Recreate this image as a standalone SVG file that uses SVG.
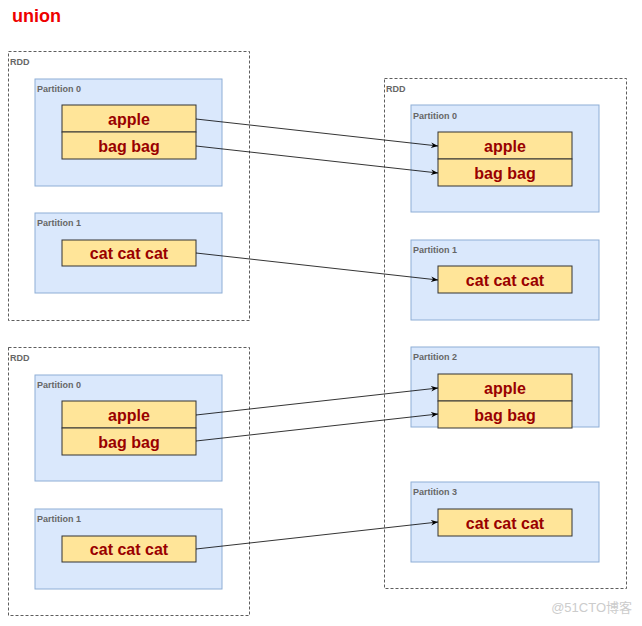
<svg xmlns="http://www.w3.org/2000/svg" width="642" height="626" viewBox="0 0 642 626">
<defs>
<style>
.rdd{fill:none;stroke:#333;stroke-width:0.8;stroke-dasharray:3,2}
.part{fill:#dae8fc;stroke:#8eaed6;stroke-width:1}
.cell{fill:#ffe599;stroke:#333;stroke-width:1}
.lbl{font-family:"Liberation Sans",Arial,sans-serif;font-size:9px;font-weight:bold;fill:#666}
.txt{font-family:"Liberation Sans",Arial,sans-serif;font-size:16px;font-weight:bold;fill:#990000;text-anchor:middle}
.conn{stroke:#000;stroke-width:0.8;fill:none;marker-end:url(#arr)}
</style>
<marker id="arr" viewBox="0 0 10 10" refX="10" refY="5" markerWidth="7" markerHeight="7" markerUnits="userSpaceOnUse" orient="auto">
<path d="M0,1 L10,5 L0,9 L3,5 Z" fill="#000"/>
</marker>
</defs>
<rect width="642" height="626" fill="#fff"/>
<text x="12" y="22" font-family="Liberation Sans,Arial,sans-serif" font-size="18" font-weight="bold" fill="#ee0000">union</text>

<g id="rdd1">
<rect class="rdd" x="8.5" y="51.5" width="241" height="269"/>
<text class="lbl" x="10" y="65">RDD</text>
</g>
<g id="rdd1-p0">
<rect class="part" x="35" y="79" width="187" height="107"/>
<text class="lbl" x="37" y="92">Partition 0</text>
<rect class="cell" x="62" y="105" width="134" height="27"/>
<text class="txt" x="129" y="124.5">apple</text>
<rect class="cell" x="62" y="132" width="134" height="27"/>
<text class="txt" x="129" y="151.5">bag bag</text>
</g>
<g id="rdd1-p1">
<rect class="part" x="35" y="213" width="187" height="80"/>
<text class="lbl" x="37" y="226">Partition 1</text>
<rect class="cell" x="62" y="240" width="134" height="26"/>
<text class="txt" x="129" y="259">cat cat cat</text>
</g>

<g id="rdd2">
<rect class="rdd" x="8.5" y="347.5" width="241" height="268"/>
<text class="lbl" x="10" y="361">RDD</text>
</g>
<g id="rdd2-p0">
<rect class="part" x="35" y="375" width="187" height="106"/>
<text class="lbl" x="37" y="388">Partition 0</text>
<rect class="cell" x="62" y="401" width="134" height="27"/>
<text class="txt" x="129" y="420.5">apple</text>
<rect class="cell" x="62" y="428" width="134" height="27"/>
<text class="txt" x="129" y="447.5">bag bag</text>
</g>
<g id="rdd2-p1">
<rect class="part" x="35" y="509" width="187" height="80"/>
<text class="lbl" x="37" y="522">Partition 1</text>
<rect class="cell" x="62" y="536" width="134" height="26"/>
<text class="txt" x="129" y="555">cat cat cat</text>
</g>

<g id="rdd3">
<rect class="rdd" x="384.5" y="78.5" width="242" height="510"/>
<text class="lbl" x="386" y="92">RDD</text>
</g>
<g id="rdd3-p0">
<rect class="part" x="411" y="105" width="188" height="107"/>
<text class="lbl" x="413" y="119">Partition 0</text>
<rect class="cell" x="438" y="132" width="134" height="27"/>
<text class="txt" x="505" y="151.5">apple</text>
<rect class="cell" x="438" y="159" width="134" height="27"/>
<text class="txt" x="505" y="178.5">bag bag</text>
</g>
<g id="rdd3-p1">
<rect class="part" x="411" y="240" width="188" height="80"/>
<text class="lbl" x="413" y="253">Partition 1</text>
<rect class="cell" x="438" y="266" width="134" height="27"/>
<text class="txt" x="505" y="285.5">cat cat cat</text>
</g>
<g id="rdd3-p2">
<rect class="part" x="411" y="347" width="188" height="80"/>
<text class="lbl" x="413" y="360">Partition 2</text>
<rect class="cell" x="438" y="374" width="134" height="27"/>
<text class="txt" x="505" y="393.5">apple</text>
<rect class="cell" x="438" y="401" width="134" height="27"/>
<text class="txt" x="505" y="420.5">bag bag</text>
</g>
<g id="rdd3-p3">
<rect class="part" x="411" y="482" width="188" height="80"/>
<text class="lbl" x="413" y="495">Partition 3</text>
<rect class="cell" x="438" y="509" width="134" height="27"/>
<text class="txt" x="505" y="528.5">cat cat cat</text>
</g>

<g id="connectors">
<line class="conn" x1="196" y1="119" x2="438" y2="146"/>
<line class="conn" x1="196" y1="146" x2="438" y2="173"/>
<line class="conn" x1="196" y1="253" x2="438" y2="280"/>
<line class="conn" x1="196" y1="415" x2="438" y2="388"/>
<line class="conn" x1="196" y1="441" x2="438" y2="414"/>
<line class="conn" x1="196" y1="549" x2="438" y2="522"/>
</g>

<text x="632" y="612" text-anchor="end" font-family="Liberation Sans,'Noto Sans CJK SC',sans-serif" font-size="13" fill="#cccccc">@51CTO博客</text>
</svg>
